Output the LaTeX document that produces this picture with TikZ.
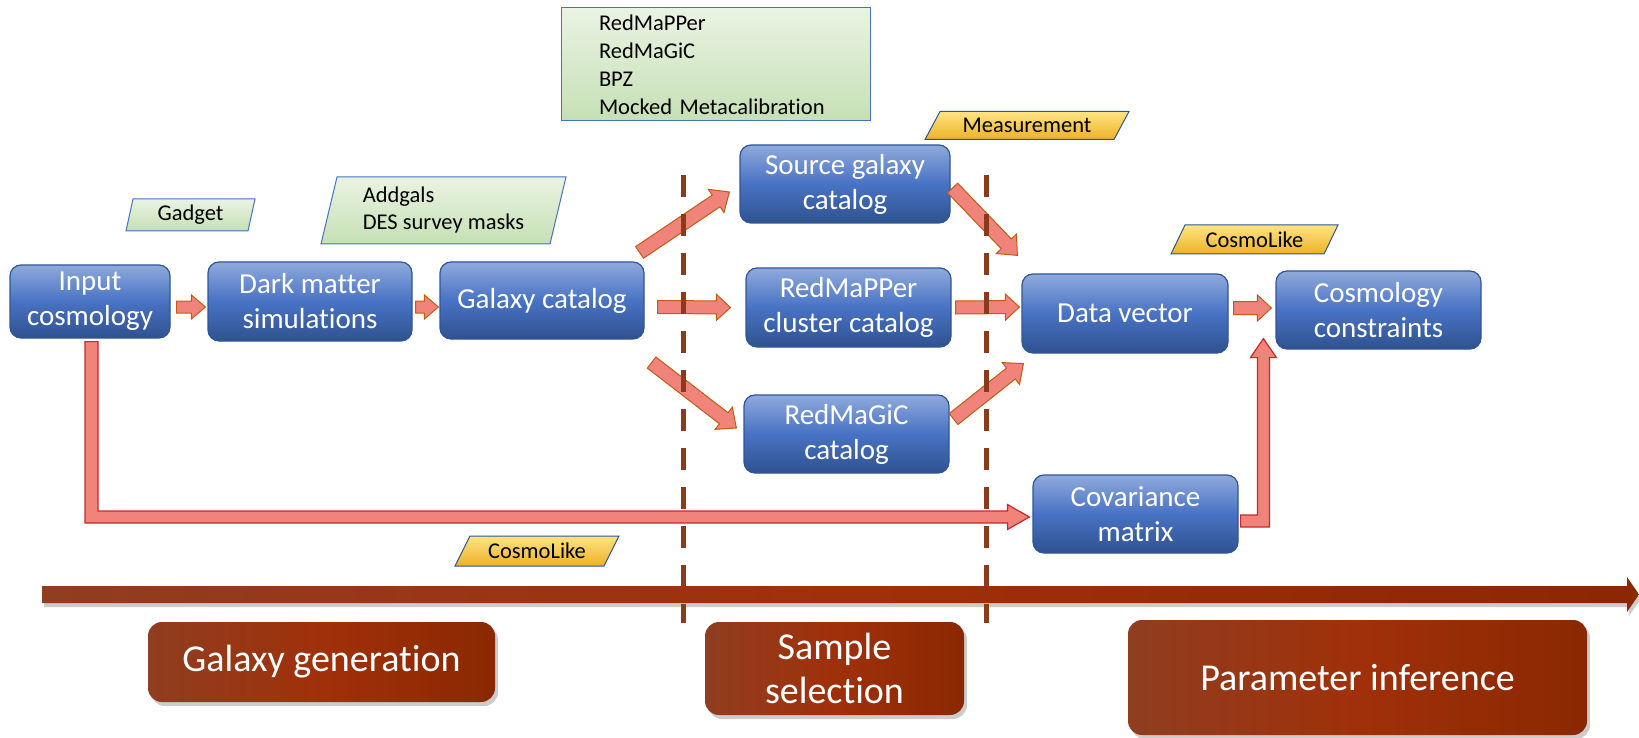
\documentclass[tikz,border=0pt]{standalone}
\usepackage{fontspec}
\setmainfont{Carlito}[Ligatures=NoCommon]
\usetikzlibrary{calc,shadows}
\definecolor{bluetop}{RGB}{143,170,220}
\definecolor{bluemid}{RGB}{72,114,196}
\definecolor{bluebot}{RGB}{47,82,143}
\definecolor{blueedge}{RGB}{47,85,151}
\definecolor{greentop}{RGB}{234,243,227}
\definecolor{greenbot}{RGB}{197,224,180}
\definecolor{greenedge}{RGB}{68,114,196}
\definecolor{goldtop}{RGB}{255,228,130}
\definecolor{goldbot}{RGB}{236,178,40}
\definecolor{salmon}{RGB}{240,132,122}
\definecolor{arredge}{RGB}{197,90,17}
\definecolor{redge}{RGB}{200,40,40}
\definecolor{brownL}{RGB}{143,62,32}
\definecolor{brownM}{RGB}{160,48,10}
\definecolor{brownR}{RGB}{138,40,2}
\definecolor{dashbrown}{RGB}{140,58,28}

\newcommand{\pgram}[8]{%
  \draw[#7] ({#2-#4/2},{#3+#5/2}) -- ({#2+#4/2-#6},{#3+#5/2}) -- ({#2+#4/2},{#3-#5/2}) -- ({#2-#4/2+#6},{#3-#5/2}) -- cycle;
  \node[align=left, font=\fontsize{22.5}{27}\selectfont, inner sep=0pt] (#1) at (#2,#3) {#8};}

\newcommand{\barr}[5]{%
  \coordinate (bs) at #1; \coordinate (be) at #2;
  \coordinate (bh) at ($(be)!#5pt!(bs)$);
  \draw[blockarrow] ($(bs)!#3pt!90:(be)$) -- ($(bh)!#3pt!90:(be)$) -- ($(bh)!#4pt!90:(be)$) -- (be)
     -- ($(bh)!#4pt!-90:(be)$) -- ($(bh)!#3pt!-90:(be)$) -- ($(bs)!#3pt!-90:(be)$) -- cycle;}

\begin{document}
\begin{tikzpicture}[x=1pt,y=-1pt,
  bluebox/.style={draw=blueedge, line width=1.2pt, rounded corners=11pt,
    top color=bluetop, bottom color=bluebot, middle color=bluemid,
    text=white, font=\fontsize{29}{35}\selectfont, align=center, inner sep=0pt},
  greenpar/.style={draw=greenedge, line width=1pt, top color=greentop, bottom color=greenbot},
  goldpar/.style={draw=blueedge, line width=1pt, top color=goldtop, bottom color=goldbot},
  greenbox/.style={draw=greenedge, line width=1pt, top color=greentop, bottom color=greenbot,
    font=\fontsize{22.5}{28}\selectfont, align=left, inner ysep=0pt, inner xsep=38pt, text width=233pt},
  blockarrow/.style={fill=salmon, draw=arredge, line width=1pt, line join=miter},
  redarrow/.style={fill=salmon, draw=redge, line width=1.2pt, line join=miter},
  dashline/.style={draw=dashbrown, line width=5pt, dash pattern=on 22pt off 17pt},
  brownbox/.style={rounded corners=14pt, left color=brownL, right color=brownR, middle color=brownM,
    drop shadow={opacity=0.4, shadow xshift=3pt, shadow yshift=-4pt},
    text=white, font=\fontsize{38}{44}\selectfont, align=center, inner sep=0pt},
  timeline/.style={left color=brownL, right color=brownR, middle color=brownM,
    drop shadow={opacity=0.4, shadow xshift=2pt, shadow yshift=-4pt}}
]
\useasboundingbox (0,0) rectangle (1639,738);

% timeline
\coordinate (tl0) at (42,594.5);
\coordinate (tl1) at (1639,594.5);
\path[timeline] let \p1=(tl0), \p2=(tl1) in
  (\x1,\y1+8.5pt) -- (\x2-12pt,\y1+8.5pt) -- (\x2-12pt,\y1+17.5pt) -- (\x2,\y1)
  -- (\x2-12pt,\y1-17.5pt) -- (\x2-12pt,\y1-8.5pt) -- (\x1,\y1-8.5pt) -- cycle;

% phase labels
\node[brownbox, minimum width=347, minimum height=80] (gg) at (321.5,662) {Galaxy generation};
\node[brownbox, minimum width=259, minimum height=93] (ss) at (834.5,668.5) {Sample\\selection};
\node[brownbox, minimum width=459, minimum height=115] (pi) at (1357.5,677.5) {Parameter inference};

% tool labels
\pgram{gad}{190.5}{215}{129}{32}{7}{greenpar}{Gadget}
\pgram{add}{443.5}{210.5}{245}{67}{16}{greenpar}{Addgals\\DES survey masks}
\pgram{meas}{1027}{125.5}{204}{28}{15}{goldpar}{Measurement}
\pgram{cl1}{1254.5}{239.5}{167}{29}{14}{goldpar}{CosmoLike}
\pgram{cl2}{537}{551}{164}{30}{15}{goldpar}{CosmoLike}
\node[greenbox, minimum width=309, minimum height=113] (sel) at (715.5,64.5)
  {RedMaPPer\\RedMaGiC\\BPZ\\Mocked Metacalibration};

% main boxes
\node[bluebox, minimum width=160, minimum height=73] (inp) at (90,301.5) {Input\\cosmology};
\node[bluebox, minimum width=204, minimum height=79] (dms) at (310,301.5) {Dark matter\\simulations};
\node[bluebox, minimum width=204, minimum height=77] (gal) at (542,300.5) {Galaxy catalog};
\node[bluebox, minimum width=210, minimum height=78] (src) at (845,184) {Source galaxy\\catalog};
\node[bluebox, minimum width=205, minimum height=79] (rmp) at (848.5,307.5) {RedMaPPer\\cluster catalog};
\node[bluebox, minimum width=205, minimum height=78] (rmg) at (846.5,434) {RedMaGiC\\catalog};
\node[bluebox, minimum width=206, minimum height=79] (dv) at (1125,313.5) {Data vector};
\node[bluebox, minimum width=205, minimum height=78] (cc) at (1378.5,310) {Cosmology\\constraints};
\node[bluebox, minimum width=205, minimum height=78] (cov) at (1135.5,514) {Covariance\\matrix};

% block arrows
\barr{($(inp.east)+(6,5.5)$)}{($(dms.west)+(-2,5.5)$)}{6}{12}{14}
\barr{($(dms.east)+(3,5.5)$)}{($(gal.west)+(-1,6.5)$)}{6}{12}{14}
\barr{($(gal.east)+(13,6.5)$)}{($(rmp.west)+(-15,0)$)}{6.5}{13}{14}
\barr{($(rmp.east)+(4,0)$)}{($(dv.west)+(-2,-6.5)$)}{6.5}{13}{14}
\barr{($(dv.east)+(5,-5.5)$)}{($(cc.west)+(-4,-2)$)}{6.5}{13}{14}
\barr{($(gal.north east)+(-5,-9)$)}{($(src.west)+(-10,8)$)}{7}{14}{16}
\barr{($(gal.south east)+(7,23)$)}{($(rmg.west)+(-7,-6)$)}{7}{14}{16}
\barr{($(src.east)+(2,4)$)}{($(dv.north west)+(-4,-18)$)}{7}{14}{16}
\barr{($(rmg.east)+(4,-15)$)}{($(dv.south west)+(2,10)$)}{7}{14}{16}

% L-shaped arrows
\draw[redarrow] let \p1=($(inp.south)+(1.5,3)$), \p2=($(cov.west)+(-3,3)$) in
  (\x1-6.5pt,\y1) -- (\x1-6.5pt,\y2-6pt) -- (\x2-22pt,\y2-6pt) -- (\x2-22pt,\y2-12.5pt) -- (\x2,\y2)
  -- (\x2-22pt,\y2+12.5pt) -- (\x2-22pt,\y2+6pt) -- (\x1+6.5pt,\y2+6pt) -- (\x1+6.5pt,\y1) -- cycle;
\draw[redarrow] let \p1=($(cov.east)+(2,7)$), \p2=($(cc.south west)+(-12,-11)$) in
  (\x1,\y1+6pt) -- (\x2-6pt,\y1+6pt) -- (\x2-6pt,\y2-19pt) -- (\x2-13pt,\y2-19pt) -- (\x2,\y2)
  -- (\x2+13pt,\y2-19pt) -- (\x2+6pt,\y2-19pt) -- (\x2+6pt,\y1-6pt) -- (\x1,\y1-6pt) -- cycle;

% phase separators
\coordinate (d1t) at (683,175); \coordinate (d1b) at (683,623);
\coordinate (d2t) at (986,175); \coordinate (d2b) at (986,623);
\draw[dashline] (d1t) -- (d1b);
\draw[dashline] (d2t) -- (d2b);
\end{tikzpicture}
\end{document}
